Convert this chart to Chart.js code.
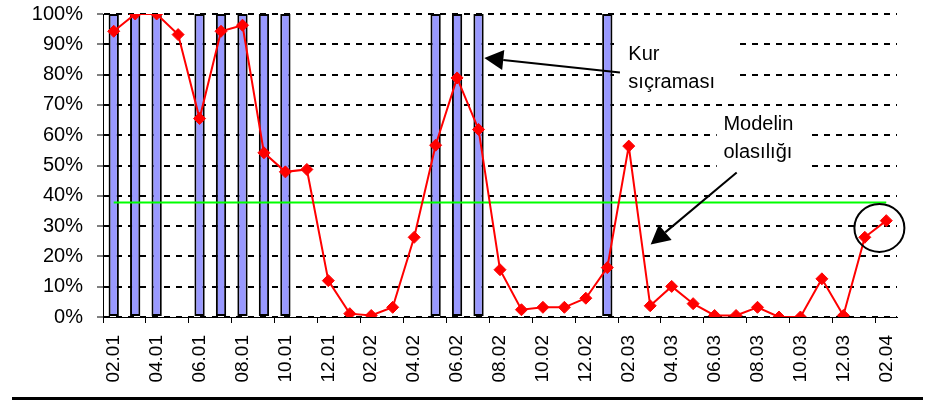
<!DOCTYPE html>
<html>
<head>
<meta charset="utf-8">
<script src="https://cdn.jsdelivr.net/npm/chart.js@4"></script>
<style>
  html, body { margin: 0; padding: 0; background: #fff; }
  #wrap { position: relative; width: 942px; height: 401px; overflow: hidden; }
  #c { position: absolute; left: 0; top: 0; }
  #rule { position: absolute; left: 12px; top: 397px; width: 911px; height: 3px; background: #000; }
</style>
</head>
<body>
<div id="wrap">
  <canvas id="c" width="942" height="397"></canvas>
  <div id="rule"></div>
</div>
<script>
// Months (MM.YY)
const months = [
  '02.01','03.01','04.01','05.01','06.01','07.01','08.01','09.01','10.01','11.01','12.01',
  '01.02','02.02','03.02','04.02','05.02','06.02','07.02','08.02','09.02','10.02','11.02','12.02',
  '01.03','02.03','03.03','04.03','05.03','06.03','07.03','08.03','09.03','10.03','11.03','12.03',
  '01.04','02.04'
];
// Model probability (%)
const probability = [
  94.3, 100, 100, 93.2, 65.5, 94.3, 96.3, 54.2, 47.9, 48.7, 12.0,
  1.1, 0.5, 3.2, 26.3, 56.7, 78.9, 61.9, 15.6, 2.4, 3.2, 3.2,
  6.2, 16.3, 56.4, 3.7, 10.1, 4.4, 0.5, 0.5, 3.2, 0, 0,
  12.6, 0.5, 26.3, 31.8
];
// Currency jump months (100 = jump)
const jumps = [
  100, 100, 100, null, 100, 100, 100, 100, 100, null, null,
  null, null, null, null, 100, 100, 100, null, null, null, null,
  null, 100, null, null, null, null, null, null, null, null, null,
  null, null, null, null
];
// Threshold (%)
const threshold = 37.8;
const yTicks = [0, 10, 20, 30, 40, 50, 60, 70, 80, 90, 100];

const FONT = '"Liberation Sans", Arial, sans-serif';

const annotations = {
  boxes: [
    { x1: 23.5, x2: 29.05, y1: 95, y2: 71.8 },
    { x1: 28.1, x2: 32.45, y1: 69, y2: 48.5 }
  ],
  texts: [
    { x: 23.98, y: 84.9, text: 'Kur' },
    { x: 23.98, y: 75.6, text: 'sıçraması' },
    { x: 28.41, y: 61.8, text: 'Modelin' },
    { x: 28.41, y: 52.5, text: 'olasılığı' }
  ],
  arrows: [
    { fx: 23.59, fy: 80.7, tx: 17.27, ty: 85.5 },
    { fx: 29.03, fy: 47.7, tx: 25.02, ty: 23.9 }
  ],
  ellipse: { x: 35.68, y: 29.4, rx: 25, ry: 24 }
};

const annotPlugin = {
  id: 'annot',
  beforeDatasetsDraw(chart) {
    const ctx = chart.ctx, xs = chart.scales.x, ys = chart.scales.y;
    ctx.save();
    ctx.fillStyle = '#fff';
    annotations.boxes.forEach(b => {
      const x1 = xs.getPixelForValue(b.x1), x2 = xs.getPixelForValue(b.x2);
      const y1 = ys.getPixelForValue(b.y1), y2 = ys.getPixelForValue(b.y2);
      ctx.fillRect(x1, y1, x2 - x1, y2 - y1);
    });
    ctx.restore();
  },
  afterDatasetsDraw(chart) {
    const ctx = chart.ctx, xs = chart.scales.x, ys = chart.scales.y;
    ctx.save();
    ctx.fillStyle = '#000';
    ctx.font = '20px ' + FONT;
    ctx.textAlign = 'left';
    ctx.textBaseline = 'alphabetic';
    annotations.texts.forEach(t => {
      ctx.fillText(t.text, xs.getPixelForValue(t.x), ys.getPixelForValue(t.y));
    });
    ctx.strokeStyle = '#000';
    ctx.lineWidth = 2;
    annotations.arrows.forEach(a => {
      const fx = xs.getPixelForValue(a.fx), fy = ys.getPixelForValue(a.fy);
      const tx = xs.getPixelForValue(a.tx), ty = ys.getPixelForValue(a.ty);
      const ang = Math.atan2(ty - fy, tx - fx);
      const L = 19, W = 10;
      const bx = tx - L * Math.cos(ang), by = ty - L * Math.sin(ang);
      ctx.beginPath();
      ctx.moveTo(fx, fy);
      ctx.lineTo(bx, by);
      ctx.stroke();
      ctx.beginPath();
      ctx.moveTo(tx, ty);
      ctx.lineTo(bx + W * Math.sin(ang), by - W * Math.cos(ang));
      ctx.lineTo(bx - W * Math.sin(ang), by + W * Math.cos(ang));
      ctx.closePath();
      ctx.fill();
    });
    const e = annotations.ellipse;
    ctx.beginPath();
    ctx.ellipse(xs.getPixelForValue(e.x), ys.getPixelForValue(e.y), e.rx, e.ry, 0, 0, Math.PI * 2);
    ctx.stroke();
    ctx.restore();
  }
};

new Chart(document.getElementById('c'), {
  type: 'bar',
  data: {
    labels: months,
    datasets: [
      {
        type: 'line',
        label: 'Modelin olasılığı',
        data: probability,
        borderColor: '#FF0000',
        backgroundColor: '#FF0000',
        borderWidth: 2,
        tension: 0,
        pointStyle: 'rectRot',
        pointRadius: 6,
        pointBorderWidth: 1,
        pointBackgroundColor: '#FF0000',
        pointBorderColor: '#FF0000',
        order: 0
      },
      {
        type: 'line',
        label: 'Eşik',
        data: months.map(() => threshold),
        borderColor: '#00FF00',
        borderWidth: 2,
        pointRadius: 0,
        tension: 0,
        order: 1
      },
      {
        type: 'bar',
        label: 'Kur sıçraması',
        data: jumps,
        backgroundColor: '#9999FF',
        borderColor: '#000000',
        borderWidth: 2,
        borderSkipped: false,
        barPercentage: 0.48,
        categoryPercentage: 1,
        order: 2
      }
    ]
  },
  options: {
    responsive: false,
    animation: false,
    devicePixelRatio: 1,
    layout: { padding: { left: 0, right: 45, top: 14, bottom: 0 } },
    plugins: { legend: { display: false }, tooltip: { enabled: false } },
    scales: {
      x: {
        type: 'category',
        offset: true,
        afterFit: s => { s.height = 80; s.paddingLeft = 0; s.paddingRight = 0; },
        grid: {
          display: true,
          offset: true,
          drawOnChartArea: false,
          drawTicks: true,
          tickLength: 6,
          tickWidth: 1,
          color: '#000',
          tickColor: c => (c.index % 2 === 0 ? '#000' : 'rgba(0,0,0,0)')
        },
        border: { display: true, color: '#000', width: 1 },
        ticks: {
          autoSkip: false,
          maxRotation: 90,
          minRotation: 90,
          padding: 12,
          color: '#000',
          font: { family: FONT, size: 19 },
          callback: (v, i) => (i % 2 === 0 ? months[i] : '')
        }
      },
      y: {
        min: 0,
        max: 100,
        afterFit: s => { s.width = 103; s.paddingTop = 0; s.paddingBottom = 0; },
        afterBuildTicks: s => { s.ticks = yTicks.map(v => ({ value: v })); },
        grid: {
          color: '#000',
          lineWidth: 2,
          tickLength: 6,
          tickWidth: 1,
          tickColor: '#000',
          tickBorderDash: []
        },
        border: { display: true, color: '#000', width: 1, dash: [6, 6] },
        ticks: {
          padding: 14,
          color: '#000',
          font: { family: FONT, size: 20 },
          callback: v => v + '%'
        }
      }
    }
  },
  plugins: [annotPlugin]
});
</script>
</body>
</html>
